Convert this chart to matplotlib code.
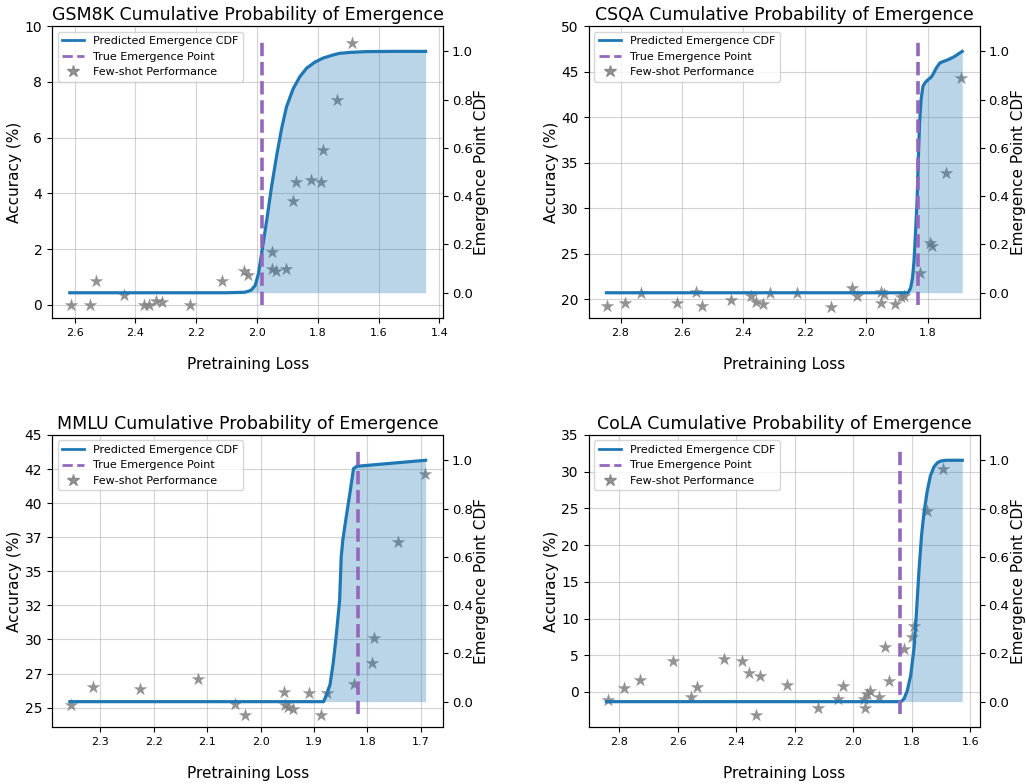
import matplotlib
matplotlib.use("Agg")
import matplotlib.pyplot as plt
from matplotlib.ticker import MultipleLocator, FormatStrFormatter
from matplotlib.lines import Line2D

# ---------------- data ----------------
titles = ["GSM8K", "CSQA", "MMLU", "CoLA"]

# GSM8K
gsm_loss = [2.613, 2.551, 2.531, 2.439, 2.373, 2.355, 2.333, 2.311, 2.222, 2.115,
            2.044, 2.028, 1.949, 1.949, 1.936, 1.905, 1.883, 1.870, 1.821, 1.788,
            1.783, 1.736, 1.687]
gsm_acc = [0.0, 0.0, 0.85, 0.35, 0.0, 0.0, 0.13, 0.1, 0.0, 0.85,
           1.23, 1.06, 1.9, 1.29, 1.23, 1.29, 3.72, 4.4, 4.49, 4.4,
           5.54, 7.35, 9.4]
gsm_cdf_loss = [2.616, 2.10, 2.04, 2.02, 2.006, 1.995, 1.984, 1.968, 1.952, 1.935,
                1.919, 1.903, 1.881, 1.859, 1.837, 1.81, 1.783, 1.75, 1.728, 1.69,
                1.64, 1.55, 1.445]
gsm_cdf = [0, 0, 0.002, 0.01, 0.03, 0.08, 0.17, 0.30, 0.44, 0.57,
           0.68, 0.77, 0.845, 0.895, 0.93, 0.955, 0.972, 0.985, 0.992, 0.996,
           0.999, 1.0, 1.0]
gsm_true = 1.982

# CSQA
csqa_loss = [2.843, 2.784, 2.733, 2.617, 2.555, 2.536, 2.442, 2.377, 2.358, 2.336,
             2.315, 2.226, 2.116, 2.048, 2.032, 1.954, 1.954, 1.942, 1.908, 1.886,
             1.876, 1.825, 1.792, 1.786, 1.741, 1.692]
csqa_acc = [19.27, 19.63, 20.73, 19.63, 20.77, 19.27, 19.93, 20.37, 19.74, 19.45,
            20.66, 20.66, 19.19, 21.21, 20.37, 20.84, 19.56, 20.55, 19.49, 20.29,
            20.37, 22.86, 26.16, 25.87, 33.86, 44.24]
csqa_cdf_loss = [2.846, 1.864, 1.856, 1.850, 1.845, 1.840, 1.835, 1.831, 1.827, 1.822,
                 1.816, 1.808, 1.799, 1.790, 1.783, 1.773, 1.761, 1.750, 1.741, 1.730,
                 1.714, 1.700, 1.688]
csqa_cdf = [0, 0, 0.02, 0.06, 0.13, 0.25, 0.38, 0.55, 0.70, 0.80,
            0.855, 0.872, 0.883, 0.892, 0.905, 0.93, 0.952, 0.958, 0.962, 0.968,
            0.978, 0.99, 1.0]
csqa_true = 1.831

# MMLU
mmlu_loss = [2.355, 2.314, 2.225, 2.117, 2.048, 2.030, 1.957, 1.955, 1.949, 1.939,
             1.910, 1.887, 1.875, 1.826, 1.792, 1.787, 1.742, 1.693]
mmlu_acc = [25.2, 26.54, 26.34, 27.10, 25.24, 24.46, 26.12, 25.2, 25.07, 24.9,
            26.10, 24.46, 26.10, 26.74, 28.25, 30.09, 37.13, 42.11]
mmlu_cdf_loss = [2.357, 1.882, 1.876, 1.870, 1.864, 1.858, 1.852, 1.849, 1.846, 1.840,
                 1.833, 1.826, 1.820, 1.691]
mmlu_cdf = [0, 0, 0.03, 0.07, 0.16, 0.28, 0.42, 0.60, 0.67, 0.76,
            0.86, 0.965, 0.975, 1.0]
mmlu_true = 1.818

# CoLA
cola_loss = [2.837, 2.783, 2.728, 2.614, 2.553, 2.534, 2.442, 2.380, 2.357, 2.318,
             2.332, 2.227, 2.120, 2.052, 2.033, 1.958, 1.962, 1.953, 1.941, 1.913,
             1.890, 1.877, 1.826, 1.800, 1.792, 1.747, 1.694]
cola_acc = [-1.05, 0.55, 1.59, 4.28, -0.73, 0.64, 4.51, 4.19, 2.59, 2.23,
            -3.10, 0.91, -2.18, -0.91, 0.86, -2.18, -0.91, -0.27, 0.09, -0.73,
            6.10, 1.55, 5.87, 7.46, 8.97, 24.67, 30.36]
cola_cdf_loss = [2.843, 1.836, 1.826, 1.815, 1.803, 1.792, 1.784, 1.775, 1.766, 1.758,
                 1.747, 1.736, 1.724, 1.712, 1.700, 1.683, 1.627]
cola_cdf = [0, 0, 0.012, 0.045, 0.11, 0.22, 0.36, 0.54, 0.69, 0.78,
            0.87, 0.935, 0.972, 0.99, 0.997, 1.0, 1.0]
cola_true = 1.839

acc_top = [10, 50, 45, 35]
acc_step = [2, 5, 2.5, 5]
loss_step = [0.2, 0.2, 0.1, 0.2]

panels = [
    (gsm_loss, gsm_acc, gsm_cdf_loss, gsm_cdf, gsm_true),
    (csqa_loss, csqa_acc, csqa_cdf_loss, csqa_cdf, csqa_true),
    (mmlu_loss, mmlu_acc, mmlu_cdf_loss, mmlu_cdf, mmlu_true),
    (cola_loss, cola_acc, cola_cdf_loss, cola_cdf, cola_true),
]

# ---------------- plot ----------------
fig, axes = plt.subplots(2, 2, figsize=(10.26, 7.84), dpi=100)
fig.subplots_adjust(left=0.0507, right=0.9552, top=0.9668, bottom=0.0727,
                    wspace=0.371, hspace=0.40)

for i, ax in enumerate(axes.flat):
    loss, acc, cdf_loss, cdf, true_pt = panels[i]
    ax.scatter(loss, acc, marker='*', s=105, color='gray', alpha=0.85, zorder=2,
               linewidths=0)
    ax.set_ylim(top=acc_top[i])
    ax.yaxis.set_major_locator(MultipleLocator(acc_step[i]))
    if i == 2:
        ax.yaxis.set_major_formatter(FormatStrFormatter('%d'))
    ax.xaxis.set_major_locator(MultipleLocator(loss_step[i]))
    ax.xaxis.set_major_formatter(FormatStrFormatter('%.1f'))
    ax.grid(True, color='#b0b0b0', alpha=0.55, linewidth=0.8)
    ax.set_axisbelow(True)
    ax.tick_params(axis='x', labelsize=8)
    ax.tick_params(axis='y', labelsize=10)
    ax.set_xlabel('Pretraining Loss', fontsize=11, labelpad=14)
    ax.set_ylabel('Accuracy (%)', fontsize=11, labelpad=2)
    ax.set_title(f'{titles[i]} Cumulative Probability of Emergence', fontsize=12.5, pad=4)

    ax2 = ax.twinx()
    ax2.plot(cdf_loss, cdf, color='#1f77b4', linewidth=2.3)
    ax2.fill_between(cdf_loss, 0, cdf, color='#1f77b4', alpha=0.3, linewidth=0)
    ax2.vlines(true_pt, -0.05, 1.05, colors='#9467bd', linestyles='--', linewidth=2.6)
    ax2.set_ylim(-0.105, 1.105)
    ax2.set_ylabel('Emergence Point CDF', fontsize=11, labelpad=1)
    ax2.tick_params(axis='y', labelsize=9.5, pad=2.5)
    ax.invert_xaxis()

    handles = [
        Line2D([], [], color='#1f77b4', linewidth=2),
        Line2D([], [], color='#9467bd', linestyle='--', linewidth=2),
        Line2D([], [], color='gray', marker='*', linestyle='None', markersize=9, alpha=0.85),
    ]
    ax2.legend(handles, ['Predicted Emergence CDF', 'True Emergence Point', 'Few-shot Performance'],
               loc='upper left', fontsize=8)

fig.savefig('out.png', dpi=100)
